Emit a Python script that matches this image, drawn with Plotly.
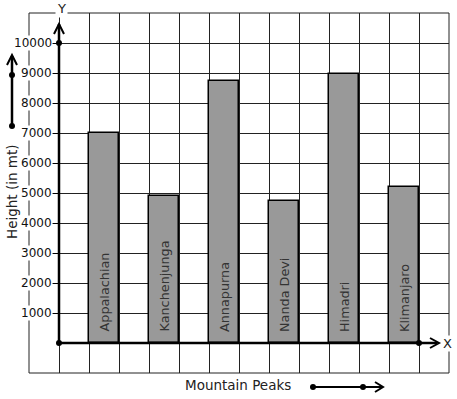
import plotly.graph_objects as go

# ---- data ----
peaks = ["Appalachian", "Kanchenjunga", "Annapurna", "Nanda Devi", "Himadri", "Klimanjaro"]
heights = [7000, 4900, 8750, 4750, 8970, 5200]
y_ticks = [1000, 2000, 3000, 4000, 5000, 6000, 7000, 8000, 9000, 10000]
y_tick_labels = [str(v) for v in y_ticks]
x_title = "Mountain Peaks"
y_title = "Height (in mt)"

# ---- layout geometry (pixels) ----
W, H = 457, 399
L, R, T, B = 29, 8, 13, 26
PW, PH = W - L - R, H - T - B


def px(x):
    return (x - L) / PW


def py(y):
    return (H - B - y) / PH


bar_x = [2 * i + 1.5 for i in range(len(peaks))]

fig = go.Figure()
fig.add_trace(go.Bar(
    x=bar_x, y=heights, width=1,
    marker=dict(color="#999999", line=dict(color="#000000", width=1.5)),
    hoverinfo="skip", showlegend=False,
))

AX = dict(color="#000000", width=2.5)
shapes = []
shapes.append(dict(type="line", xref="x", yref="y", x0=0, y0=0, x1=0, y1=10630, line=AX))
shapes.append(dict(type="line", xref="x", yref="y", x0=0, y0=0, x1=12.6, y1=0, line=AX))


def chevron(tip, a, b, w=2):
    return dict(type="path", xref="paper", yref="paper",
                path=f"M {px(a[0])} {py(a[1])} L {px(tip[0])} {py(tip[1])} L {px(b[0])} {py(b[1])}",
                line=dict(color="#000000", width=w))


def dot_data(x, y, r=3):
    return dict(type="circle", xref="x", yref="y", xsizemode="pixel", ysizemode="pixel",
                xanchor=x, yanchor=y, x0=-r, x1=r, y0=-r, y1=r,
                fillcolor="#000000", line=dict(color="#000000", width=0))


def dot_px(x, y, r=3):
    return dict(type="circle", xref="paper", yref="paper", xsizemode="pixel", ysizemode="pixel",
                xanchor=px(x), yanchor=py(y), x0=-r, x1=r, y0=-r, y1=r,
                fillcolor="#000000", line=dict(color="#000000", width=0))


shapes.append(chevron((59, 24), (54, 34), (64, 34)))
shapes.append(chevron((439, 343), (430, 338), (430, 348)))
shapes.append(dict(type="line", xref="paper", yref="paper", x0=px(12), y0=py(126), x1=px(12), y1=py(56),
                   line=dict(color="#000000", width=2.5)))
shapes.append(chevron((12, 55), (7, 65), (17, 65)))
shapes.append(dict(type="line", xref="paper", yref="paper", x0=px(313), y0=py(387), x1=px(382), y1=py(387),
                   line=dict(color="#000000", width=2)))
shapes.append(chevron((383, 387), (375, 382), (375, 392)))
shapes.append(dict(type="rect", xref="paper", yref="paper", x0=0, y0=0, x1=1, y1=1,
                   line=dict(color="#222222", width=1), layer="below"))
shapes += [dot_data(0, 0), dot_data(0, 10000), dot_data(12, 0)]
shapes += [dot_px(12, 126), dot_px(12, 75), dot_px(313, 387), dot_px(363, 387)]

font = dict(family="DejaVu Sans", size=12, color="#111111")
title_font = dict(family="DejaVu Sans", size=13.5, color="#222222")
annotations = [
    dict(text="Y", xref="paper", yref="paper", x=px(61), y=py(8), showarrow=False,
         font=dict(family="DejaVu Sans", size=13, color="#222222"), bgcolor="#ffffff",
         xanchor="center", yanchor="middle"),
    dict(text="X", xref="paper", yref="paper", x=px(447), y=py(343), showarrow=False,
         font=dict(family="DejaVu Sans", size=13, color="#222222"), bgcolor="#ffffff",
         xanchor="center", yanchor="middle", borderpad=0),
    dict(text=x_title, xref="paper", yref="paper", x=px(238), y=py(385), showarrow=False,
         font=title_font, xanchor="center", yanchor="middle"),
    dict(text=y_title, xref="paper", yref="paper", x=px(12), y=py(192), showarrow=False,
         font=title_font, textangle=-90, xanchor="center", yanchor="middle"),
]
for tv, tl in zip(y_ticks, y_tick_labels):
    annotations.append(dict(text=tl, x=0, y=tv, xref="x", yref="y", showarrow=False,
                            xanchor="right", yanchor="middle", xshift=-6, borderpad=0,
                            bgcolor="#ffffff", font=font))
for bx, name in zip(bar_x, peaks):
    annotations.append(dict(text=name, x=bx, y=0, xref="x", yref="y", showarrow=False,
                            textangle=-90, xanchor="center", yanchor="bottom", yshift=9,
                            font=dict(family="DejaVu Sans", size=12.8, color="#333333")))

fig.update_layout(
    width=W, height=H, autosize=False,
    margin=dict(l=L, r=R, t=T, b=B, pad=0),
    paper_bgcolor="#ffffff", plot_bgcolor="#ffffff",
    bargap=0,
    xaxis=dict(range=[-1, 13], dtick=1, tick0=0, showgrid=True, gridcolor="#222222", gridwidth=1,
               showticklabels=False, ticks="", zeroline=False, showline=False, fixedrange=True),
    yaxis=dict(range=[-1000, 11000], tickvals=y_ticks, showticklabels=False,
               showgrid=True, gridcolor="#222222", gridwidth=1, zeroline=False, showline=False,
               anchor="free", position=px(59), ticks="outside", ticklen=6, tickcolor="#000000",
               tickwidth=1, fixedrange=True),
    shapes=shapes, annotations=annotations, showlegend=False,
)

fig.write_html("out.html", config={"displayModeBar": False},
               post_script="document.body.style.margin='0';document.body.style.padding='0';")
